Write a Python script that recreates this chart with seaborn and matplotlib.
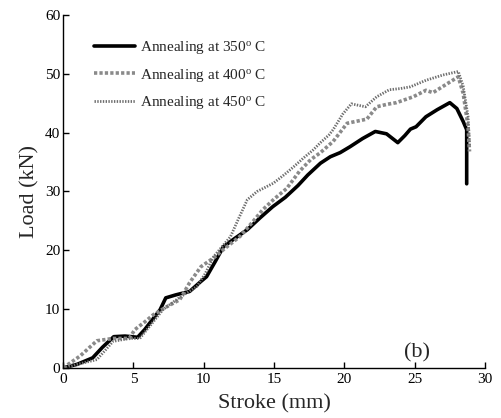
import numpy as np
import pandas as pd
import matplotlib
matplotlib.use("Agg")
import matplotlib.pyplot as plt
import seaborn as sns

x350 = [0, 1.0, 2.1, 2.8, 3.6, 4.4, 5.3, 5.8, 6.9, 7.3, 8.0, 9.0, 9.8, 10.2, 10.8, 11.4, 12.2, 13.1,
        14.0, 14.9, 15.8, 16.7, 17.4, 18.3, 19.0, 19.7, 20.4, 21.3, 22.2, 23.0, 23.8, 24.3, 24.7,
        25.1, 25.8, 26.6, 27.5, 28.0, 28.45, 28.7, 28.7]
y350 = [0, 0.6, 1.7, 3.5, 5.3, 5.4, 5.2, 6.5, 9.9, 11.9, 12.4, 13.0, 14.7, 15.5, 18.0, 20.6, 22.0, 23.5,
        25.5, 27.4, 29.0, 31.0, 32.8, 34.8, 35.9, 36.6, 37.6, 39.0, 40.2, 39.8, 38.3, 39.5, 40.6,
        41.0, 42.7, 43.9, 45.1, 44.1, 41.9, 40.5, 31.3]

x400 = [0, 1.2, 2.4, 3.55, 4.7, 5.1, 5.8, 6.4, 7.3, 8.3, 9.0, 9.8, 10.7, 11.6, 12.6, 13.4, 14.2,
        15.0, 15.9, 16.8, 17.6, 18.3, 19.2, 20.2, 21.0, 21.6, 22.3, 23.0, 23.7, 24.9, 25.8, 26.3,
        27.3, 28.1, 28.45, 28.8, 28.9]
y400 = [0, 2.0, 4.6, 5.0, 5.0, 6.5, 7.8, 9.0, 10.3, 11.6, 14.5, 17.2, 18.7, 20.5, 22.4, 24.6, 26.9,
        28.7, 30.5, 33.4, 35.4, 36.6, 38.5, 41.6, 42.0, 42.3, 44.4, 44.8, 45.1, 46.1, 47.2, 46.8,
        48.3, 49.5, 46.7, 41.0, 36.8]

x450 = [0, 1.2, 2.4, 3.0, 3.55, 4.7, 5.45, 6.3, 7.1, 8.3, 9.5, 10.1, 10.7, 11.9, 12.5, 13.1, 13.8,
        14.95, 15.7, 16.4, 17.1, 17.8, 18.3, 18.9, 19.2, 19.9, 20.5, 21.5, 22.3, 23.2, 24.0, 24.7,
        25.8, 27.0, 28.1, 28.45, 28.8, 28.9]
y450 = [0, 0.7, 1.4, 3.0, 4.5, 5.0, 5.0, 7.5, 9.9, 12.0, 13.8, 16.0, 18.9, 22.3, 25.5, 28.6, 30.0,
        31.4, 32.8, 34.2, 35.7, 37.1, 38.3, 39.6, 40.5, 43.2, 44.9, 44.4, 46.1, 47.3, 47.5, 47.8,
        48.9, 49.8, 50.4, 47.9, 42.7, 37.6]

labels = ["Annealing at 350$^{\\mathrm{o}}$ C",
          "Annealing at 400$^{\\mathrm{o}}$ C",
          "Annealing at 450$^{\\mathrm{o}}$ C"]

df = pd.concat([
    pd.DataFrame({"Stroke": x350, "Load": y350, "Series": labels[0], "order": range(len(x350))}),
    pd.DataFrame({"Stroke": x400, "Load": y400, "Series": labels[1], "order": range(len(x400))}),
    pd.DataFrame({"Stroke": x450, "Load": y450, "Series": labels[2], "order": range(len(x450))}),
], ignore_index=True)

sns.set_style("ticks")
plt.rcParams["font.family"] = ["Liberation Serif", "DejaVu Serif"]
plt.rcParams["mathtext.fontset"] = "custom"
plt.rcParams["mathtext.rm"] = "Liberation Serif"
plt.rcParams["mathtext.it"] = "Liberation Serif:italic"

fig = plt.figure(figsize=(5.01, 4.18), dpi=100)
ax = fig.add_axes([0.126, 0.12, 0.842, 0.844])

styles = {
    labels[0]: dict(color="black", lw=2.6, ls="-"),
    labels[1]: dict(color="#8a8a8a", lw=2.6, ls=(0, (0.9, 0.6))),
    labels[2]: dict(color="#6e6e6e", lw=2.0, ls=(0, (0.5, 0.5))),
}
for lab in labels:
    sub = df[df["Series"] == lab]
    st = styles[lab]
    sns.lineplot(data=sub, x="Stroke", y="Load", sort=False, estimator=None, ax=ax,
                 color=st["color"], linewidth=st["lw"], linestyle=st["ls"], label=lab)

ax.set_xlim(0, 30)
ax.set_ylim(0, 60)
ax.set_xticks([0, 5, 10, 15, 20, 25, 30])
ax.set_yticks([0, 10, 20, 30, 40, 50, 60])
ax.tick_params(direction="in", length=4, width=1, labelsize=11, colors="black")
ax.tick_params(axis="x", pad=4)
ax.tick_params(axis="y", pad=2)
for s in ["top", "right"]:
    ax.spines[s].set_visible(False)
for s in ["left", "bottom"]:
    ax.spines[s].set_color("black")
    ax.spines[s].set_linewidth(1)
ax.set_xlabel("Stroke (mm)", fontsize=16, labelpad=6)
ax.set_ylabel("Load (kN)", fontsize=16, labelpad=4)
ax.text(25.2, 2.6, "(b)", fontsize=16, ha="center", va="center")
leg = ax.legend(loc="upper left", bbox_to_anchor=(0.04, 0.97), frameon=False, fontsize=11,
                handlelength=2.7, handletextpad=0.3, labelspacing=0.68)
fig.savefig("out.png", dpi=100)
